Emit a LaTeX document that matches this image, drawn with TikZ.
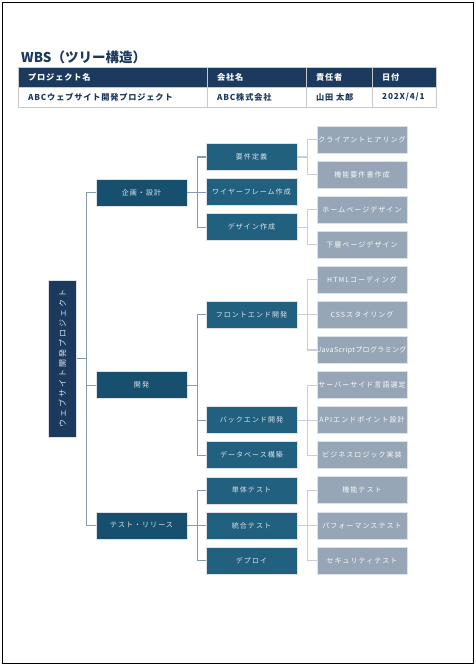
\documentclass[tikz,border=0pt]{standalone}
\usepackage{fontspec}
\setmainfont{Noto Sans CJK JP}
\newfontfamily\boxfont[LetterSpace=15]{Noto Sans CJK JP}
\newfontfamily\boxfonttight[LetterSpace=5]{Noto Sans CJK JP}
\newfontfamily\rootfont[LetterSpace=25]{Noto Sans CJK JP}
\newfontfamily\tabfont[LetterSpace=10]{Noto Sans CJK JP}
\definecolor{navy}{HTML}{1B3A5E}
\definecolor{lvone}{HTML}{17506F}
\definecolor{lvtwo}{HTML}{22607F}
\definecolor{lvthree}{HTML}{96A6B6}
\definecolor{lvthreeb}{HTML}{DCE2E8}
\definecolor{conn}{HTML}{8A9BAD}
\definecolor{connlight}{HTML}{C6CED7}
\definecolor{txtone}{HTML}{DCE5EC}
\definecolor{tabline}{HTML}{C8C8C8}
\tikzset{
  base/.style={rectangle, inner sep=0pt, minimum height=27pt, align=center,
    font=\boxfont\fontsize{7}{8}\selectfont},
  rootbox/.style={rectangle, inner sep=0pt, fill=navy, draw=lvthreeb, line width=0.5pt,
    minimum width=28pt, minimum height=157pt, text=txtone},
  onebox/.style={base, fill=lvone, draw=lvthreeb, line width=0.5pt, minimum width=91pt, text=txtone},
  twobox/.style={base, fill=lvtwo, draw=lvthreeb, line width=0.5pt, minimum width=91pt, text=txtone},
  threebox/.style={base, fill=lvthree, draw=lvthreeb, line width=0.8pt, minimum width=90pt, text=white!95!lvthree},
  link/.style={draw=conn, line width=1.1pt},
  linklight/.style={draw=connlight, line width=1.1pt},
  hdr/.style={anchor=west, inner sep=0pt, text=white, font=\tabfont\bfseries\fontsize{8.2}{9}\selectfont},
  cell/.style={anchor=west, inner sep=0pt, text=navy, font=\tabfont\bfseries\fontsize{8.2}{9}\selectfont},
}
\begin{document}
\begin{tikzpicture}[x=1pt,y=-1pt]
\useasboundingbox (0,0) rectangle (476,665);
\fill[white] (0,0) rectangle (476,665);
\draw[line width=1pt, black] (2.5,2.5) rectangle (473,663);

% title
\node[anchor=base west, inner sep=0pt, text=navy, font=\bfseries\fontsize{13.5}{15}\selectfont] (title) at (21,62) {WBS（ツリー構造）};

% table
\fill[navy] (18,67) rectangle (436,87);
\fill[white] (18,87) rectangle (436,107);
\draw[tabline, line width=0.8pt] (18,67) rectangle (436,107);
\draw[tabline, line width=0.8pt] (18,87) -- (436,87);
\foreach \cx in {207,306,372} \draw[tabline, line width=0.8pt] (\cx,67) -- (\cx,107);
\node[hdr] (h1) at (28,77) {プロジェクト名};
\node[hdr] (h2) at (217,77) {会社名};
\node[hdr] (h3) at (316,77) {責任者};
\node[hdr] (h4) at (382,77) {日付};
\node[cell] (d1) at (28,97) {ABCウェブサイト開発プロジェクト};
\node[cell] (d2) at (217,97) {ABC株式会社};
\node[cell] (d3) at (316,97) {山田 太郎};
\node[cell] (d4) at (382,97) {202X/4/1};

% root
\node[rootbox] (root) at (62.5,358.5) {};
\node[rotate=90, text=txtone, font=\rootfont\fontsize{8}{9}\selectfont, inner sep=0pt] (roottxt) at (root.center) {ウェブサイト開発プロジェクト};

% level 1
\node[onebox] (a) at (141.5,192.5) {企画・設計};
\node[onebox] (b) at (141.5,385.1) {開発};
\node[onebox] (c) at (141.5,525.4) {テスト・リリース};

% level 2
\node[twobox] (a1) at (251.5,157.0) {要件定義};
\node[twobox] (a2) at (251.5,192.1) {ワイヤーフレーム作成};
\node[twobox] (a3) at (251.5,227.2) {デザイン作成};
\node[twobox] (b1) at (251.5,314.9) {フロントエンド開発};
\node[twobox] (b2) at (251.5,420.1) {バックエンド開発};
\node[twobox] (b3) at (251.5,455.2) {データベース構築};
\node[twobox] (c1) at (251.5,490.3) {単体テスト};
\node[twobox] (c2) at (251.5,525.4) {統合テスト};
\node[twobox] (c3) at (251.5,560.5) {デプロイ};

% level 3
\node[threebox] (a11) at (362,139.5) {クライアントヒアリング};
\node[threebox] (a12) at (362,174.6) {機能要件書作成};
\node[threebox] (a31) at (362,209.7) {ホームページデザイン};
\node[threebox] (a32) at (362,244.7) {下層ページデザイン};
\node[threebox] (b11) at (362,279.8) {HTMLコーディング};
\node[threebox] (b12) at (362,314.9) {CSSスタイリング};
\node[threebox, font=\boxfonttight\fontsize{7}{8}\selectfont] (b13) at (362,350.0) {\makebox[90pt]{JavaScriptプログラミング}};
\node[threebox] (b21) at (362,385.1) {サーバーサイド言語選定};
\node[threebox] (b22) at (362,420.1) {APIエンドポイント設計};
\node[threebox] (b23) at (362,455.2) {ビジネスロジック実装};
\node[threebox] (c21) at (362,490.3) {機能テスト};
\node[threebox] (c22) at (362,525.4) {パフォーマンステスト};
\node[threebox] (c23) at (362,560.5) {セキュリティテスト};

% connectors
\foreach \t in {a,b,c} \draw[link] (root.east) -- ++(10,0) |- (\t.west);
\foreach \t in {a1,a2,a3} \draw[link] (a.east) -- ++(10,0) |- (\t.west);
\foreach \t in {b1,b2,b3} \draw[link] (b.east) -- ++(10,0) |- (\t.west);
\foreach \t in {c1,c2,c3} \draw[link] (c.east) -- ++(10,0) |- (\t.west);
\foreach \t in {a11,a12} \draw[linklight] (a1.east) -- ++(10,0) |- (\t.west);
\foreach \t in {a31,a32} \draw[linklight] (a3.east) -- ++(10,0) |- (\t.west);
\foreach \t in {b11,b12,b13} \draw[linklight] (b1.east) -- ++(10,0) |- (\t.west);
\foreach \t in {b21,b22,b23} \draw[linklight] (b2.east) -- ++(10,0) |- (\t.west);
\foreach \t in {c21,c22,c23} \draw[linklight] (c2.east) -- ++(10,0) |- (\t.west);
\end{tikzpicture}
\end{document}
